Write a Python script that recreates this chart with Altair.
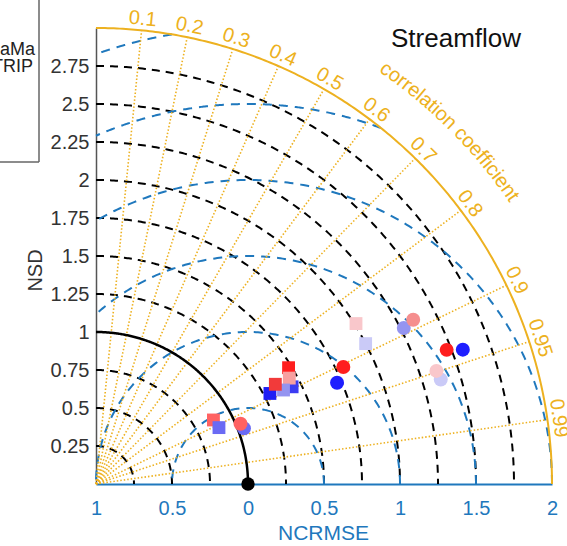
import numpy as np
import pandas as pd
import altair as alt

# ---- Taylor statistics of the simulations (normalised std. dev., correlation) ----
nsd = [1.72, 1.80, 2.57, 2.47, 2.27, 2.35, 2.37, 2.36, 1.04, 1.03,
       2.01, 2.00, 0.88, 0.89, 1.44, 1.48, 1.45, 1.29, 1.38, 1.35]
corr = [0.922, 0.904, 0.939, 0.934, 0.892, 0.888, 0.957, 0.949, 0.936, 0.923,
        0.851, 0.887, 0.878, 0.909, 0.896, 0.856, 0.877, 0.887, 0.894, 0.874]
shapes = ["circle"] * 10 + ["square"] * 10
colors = ["#1E1EFF", "#FF1E1E", "#1E1EFF", "#FF1E1E", "#9494F0", "#F58E8E",
          "#CACAF7", "#F9C7CB", "#6A6AF4", "#FF6262",
          "#F9C7CB", "#CACAF7", "#FF6262", "#6A6AF4", "#3C3CF2", "#FF1E1E",
          "#F7A0A0", "#1E1EF5", "#9494F0", "#F23A3A"]

# reference (observation) point
ref_nsd = [1.0]
ref_corr = [1.0]

# ---- diagram furniture ----
corr_ticks = [0.1, 0.2, 0.3, 0.4, 0.5, 0.6, 0.7, 0.8, 0.9, 0.95, 0.99]
corr_tick_labels = ["0.1", "0.2", "0.3", "0.4", "0.5", "0.6", "0.7", "0.8",
                    "0.9", "0.95", "0.99"]
nsd_ticks = [0.25, 0.5, 0.75, 1.0, 1.25, 1.5, 1.75, 2.0, 2.25, 2.5, 2.75]
rmse_levels = [0.5, 1.0, 1.5, 2.0, 2.5, 3.0]
x_ticks = [0.0, 0.5, 1.0, 1.5, 2.0, 2.5, 3.0]
RMAX = 3.0

GOLD = "#EDB120"
BLUE = "#1F78BD"
FONT = "Liberation Sans"

# ---- geometry helpers ----
def polar_arc(r, group):
    t = np.linspace(np.pi / 2, 0, 241)
    return pd.DataFrame({"x": r * np.cos(t), "y": r * np.sin(t),
                         "i": np.arange(t.size), "g": group})


def rmse_arc(R, group):
    lo = np.arccos(np.clip((RMAX ** 2 - 1 - R ** 2) / (2 * R), -1, 1))
    hi = np.arccos(np.clip(-1.0 / R, -1, 1))
    p = np.linspace(lo, hi, 241)
    return pd.DataFrame({"x": 1 + R * np.cos(p), "y": R * np.sin(p),
                         "i": np.arange(p.size), "g": group})


std_arcs = pd.concat([polar_arc(r, f"s{r}") for r in nsd_ticks if r != 1.0],
                     ignore_index=True)
rms_arcs = pd.concat([rmse_arc(R, f"e{R}") for R in rmse_levels],
                     ignore_index=True)
outer_arc = polar_arc(RMAX, "outer")
ref_arc = polar_arc(1.0, "ref")

rays = []
for c in corr_ticks:
    s = np.sqrt(1 - c ** 2)
    rays.append(pd.DataFrame({"x": [0.0, RMAX * c], "y": [0.0, RMAX * s],
                              "i": [0, 1], "g": str(c)}))
rays = pd.concat(rays, ignore_index=True)

LAB_R = 3.075
corr_lab = pd.DataFrame({
    "x": [LAB_R * c for c in corr_ticks],
    "y": [LAB_R * np.sqrt(1 - c ** 2) for c in corr_ticks],
    "rot": [90 - np.degrees(np.arccos(c)) for c in corr_ticks],
    "label": corr_tick_labels,
})

# curved "correlation coefficient" caption, laid out character by character
caption = "correlation coefficient"
adv = {"c": 0.5, "o": 0.556, "r": 0.333, "e": 0.556, "l": 0.222, "a": 0.556,
       "t": 0.278, "i": 0.222, "n": 0.556, " ": 0.278, "f": 0.278}
CAP_FS = 20
CAP_R = 3.33
PX_PER_UNIT = 152.0
widths = np.array([adv[ch] * CAP_FS for ch in caption])
centers = np.cumsum(widths) - widths / 2
centers -= widths.sum() / 2
theta_mid = np.radians(44.9)
theta = theta_mid - centers / (CAP_R * PX_PER_UNIT)
cap_df = pd.DataFrame({
    "x": CAP_R * np.cos(theta), "y": CAP_R * np.sin(theta),
    "rot": 90 - np.degrees(theta), "label": list(caption),
})

points = pd.DataFrame({"nsd": nsd, "corr": corr, "shape": shapes, "color": colors})
ref_df = pd.DataFrame({"nsd": ref_nsd, "corr": ref_corr})

# ---- scales and axes ----
xscale = alt.Scale(domain=[0, 3], nice=False, zero=False)
yscale = alt.Scale(domain=[0, 3], nice=False, zero=False)

xaxis = alt.Axis(values=x_ticks, labelExpr="format(abs(1 - datum.value), '~g')",
                 title="NCRMSE", titleColor=BLUE, titleFontSize=21,
                 titleFontWeight="normal", titleFont=FONT, titleX=227, titleY=49,
                 titleAlign="center", titleBaseline="middle",
                 labelColor=BLUE, labelFontSize=20, labelFont=FONT,
                 labelPadding=24, labelBaseline="middle", labelFlush=False,
                 labelOverlap=False, ticks=False, tickSize=0,
                 domainColor=BLUE, domainWidth=2, grid=False)
yaxis = alt.Axis(values=nsd_ticks, labelExpr="'' + datum.value", title="NSD",
                 titleColor="#333333",
                 titleFontSize=20, titleFontWeight="normal", titleFont=FONT,
                 titleX=-61, titleY=242, titleAngle=270, titleAlign="center",
                 titleBaseline="middle", labelColor="#333333", labelFontSize=20,
                 labelFont=FONT, labelPadding=7, labelOverlap=False,
                 labelFlush=False, ticks=False, tickSize=0,
                 domainColor="#555555", domainWidth=1.5, grid=False)


def X(field):
    return alt.X(field, type="quantitative", scale=xscale, axis=xaxis)


def Y(field):
    return alt.Y(field, type="quantitative", scale=yscale, axis=yaxis)


def arc_layer(df, color, width, dash=None):
    kw = dict(color=color, strokeWidth=width, clip=False)
    if dash:
        kw["strokeDash"] = dash
    return alt.Chart(df).mark_line(**kw).encode(
        x=X("x"), y=Y("y"), detail="g:N", order="i:Q")


std_layer = arc_layer(std_arcs, "black", 2, [8, 6])
rms_layer = arc_layer(rms_arcs, BLUE, 2, [9, 7])
ray_layer = arc_layer(rays, GOLD, 1.6, [1.5, 2])
outer_layer = arc_layer(outer_arc, GOLD, 2)
ref_layer = arc_layer(ref_arc, "black", 2.5)

polar_xy = dict(px="datum.nsd * datum.corr",
                py="datum.nsd * sqrt(1 - datum.corr * datum.corr)")

ref_dot = alt.Chart(ref_df).transform_calculate(**polar_xy).mark_point(
    filled=True, color="black", opacity=1, size=180, shape="circle"
).encode(x=X("px"), y=Y("py"))

markers = alt.Chart(points).transform_calculate(**polar_xy).mark_point(
    filled=True, opacity=1, strokeWidth=0
).encode(
    x=X("px"), y=Y("py"),
    color=alt.Color("color:N", scale=None),
    shape=alt.Shape("shape:N", scale=alt.Scale(domain=["circle", "square"],
                                                range=["circle", "square"]), legend=None),
    size=alt.Size("shape:N", scale=alt.Scale(domain=["circle", "square"],
                                              range=[195, 165]), legend=None),
)

corr_text = alt.Chart(corr_lab).mark_text(
    color=GOLD, fontSize=20, font=FONT, align="center", baseline="middle"
).encode(x=X("x"), y=Y("y"), text="label:N", angle=alt.Angle("rot:Q", scale=None))

cap_text = alt.Chart(cap_df).mark_text(
    color=GOLD, fontSize=CAP_FS, font=FONT, align="center", baseline="middle"
).encode(x=X("x"), y=Y("y"), text="label:N", angle=alt.Angle("rot:Q", scale=None))

title_text = alt.Chart(pd.DataFrame({"t": ["Streamflow"]})).mark_text(
    fontSize=26, font=FONT, color="#111111", align="center", baseline="alphabetic"
).encode(x=alt.value(360), y=alt.value(19), text="t:N")

# legend panel at the left edge
legend_names = ["CaMa", "TRIP"]
legend_df = pd.DataFrame({"name": legend_names, "ypos": [22, 39], "xpos": [-61, -63]})
legend_text = alt.Chart(legend_df).mark_text(
    fontSize=18, font=FONT, color="#222222", align="right", baseline="middle"
).encode(x=alt.X("xpos:Q", scale=None, axis=None),
         y=alt.Y("ypos:Q", scale=None, axis=None), text="name:N")
box_v = alt.Chart(pd.DataFrame({"a": [0]})).mark_rule(color="#666666", strokeWidth=1.5).encode(
    x=alt.value(-57), y=alt.value(-40), y2=alt.value(134))
box_h = alt.Chart(pd.DataFrame({"a": [0]})).mark_rule(color="#666666", strokeWidth=1.5).encode(
    x=alt.value(-140), x2=alt.value(-57), y=alt.value(134))

chart = alt.layer(
    std_layer, rms_layer, ray_layer, outer_layer, ref_layer,
    ref_dot, markers, corr_text, cap_text, title_text,
    legend_text, box_v, box_h,
).properties(
    width=456, height=456,
    padding={"left": 96, "top": 28, "right": 15, "bottom": 62},
    autosize=alt.AutoSizeParams(type="none"),
    background="white",
).configure_view(stroke=None)

chart.save("out.html", embed_options={"renderer": "svg", "actions": False})
